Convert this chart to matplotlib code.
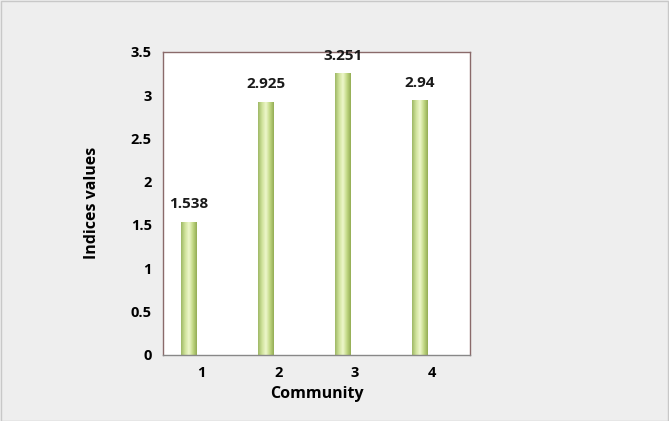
import numpy as np
import matplotlib.pyplot as plt
from matplotlib.colors import LinearSegmentedColormap

communities = ['1', '2', '3', '4']
values = [1.538, 2.925, 3.251, 2.94]
value_labels = ['1.538', '2.925', '3.251', '2.94']

plt.rcParams['font.family'] = ['Open Sans', 'DejaVu Sans']

fig = plt.figure(figsize=(6.69, 4.21), dpi=100, facecolor='#eeeeee')
fig.patches.append(plt.Rectangle((0.001, 0.001), 0.997, 0.997, transform=fig.transFigure,
                                 fill=False, edgecolor='#c8c8c8', linewidth=1))
ax = fig.add_axes([0.2436, 0.157, 0.459, 0.72])
ax.set_facecolor('white')

# cylinder-like gradient across the bar width
cmap = LinearSegmentedColormap.from_list('cyl', ['#9fb866', '#cfe29a', '#eef7cc', '#c2d884', '#94ad55'])
grad = np.linspace(0, 1, 64).reshape(1, -1)
x = np.arange(len(communities))
width = 0.2
shift = -0.16  # bars sit left of the category ticks in the original
for xi, v, lab in zip(x + shift, values, value_labels):
    bar = ax.bar(xi, v, width=width, color='none', edgecolor='none')[0]
    im = ax.imshow(grad, cmap=cmap, aspect='auto',
                   extent=[xi - width / 2, xi + width / 2, 0, v], zorder=2)
    im.set_clip_path(bar)
    ax.text(xi, v + 0.12, lab, ha='center', va='bottom', fontsize=11, fontweight='bold', color='#1a1a1a')

ax.set_xlim(-0.5, 3.5)
ax.set_ylim(0, 3.5)
ax.set_xticks(x)
ax.set_xticklabels(communities)
ax.set_yticks(np.arange(0, 3.51, 0.5))
ax.set_yticklabels(['0', '0.5', '1', '1.5', '2', '2.5', '3', '3.5'])
ax.tick_params(length=0, labelsize=10.5, pad=8)
for t in ax.get_xticklabels() + ax.get_yticklabels():
    t.set_fontweight('bold')
for s in ax.spines.values():
    s.set_edgecolor('#8a6a6a')
    s.set_linewidth(1)
ax.spines['bottom'].set_edgecolor('#888888')
ax.set_xlabel('Community', fontsize=11.5, fontweight='bold', labelpad=4)
ax.set_ylabel('Indices values', fontsize=11.5, fontweight='bold', labelpad=22)

fig.savefig('out.png', dpi=100, facecolor=fig.get_facecolor())
